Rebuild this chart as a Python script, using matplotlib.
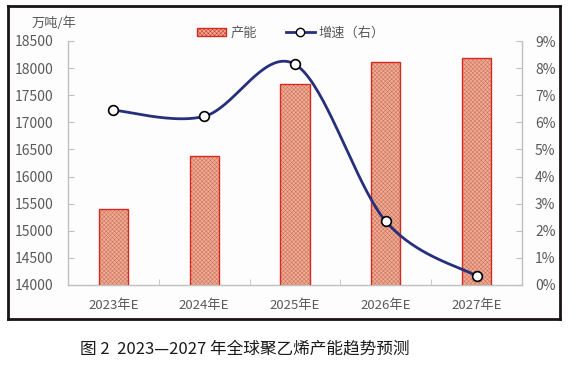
import numpy as np
import matplotlib
matplotlib.use("Agg")
import matplotlib.pyplot as plt
from matplotlib.patches import Rectangle
from matplotlib.lines import Line2D

plt.rcParams['font.family'] = ['Noto Sans CJK SC', 'DejaVu Sans']

categories = ['2023年E', '2024年E', '2025年E', '2026年E', '2027年E']
capacity = [15410, 16375, 17700, 18120, 18180]
growth = [6.45, 6.22, 8.14, 2.35, 0.33]
left_ticks = [14000, 14500, 15000, 15500, 16000, 16500, 17000, 17500, 18000, 18500]
right_ticks = [0, 1, 2, 3, 4, 5, 6, 7, 8, 9]

W, H = 581, 367
fig = plt.figure(figsize=(W / 100, H / 100), dpi=100)
fig.patch.set_facecolor('white')

# outer frame (background axes)
bg = fig.add_axes([8 / W, 1 - 319 / H, (560 - 8) / W, (319 - 6) / H], zorder=-10)
bg.set_facecolor('#fdfdfd')
bg.set_xticks([])
bg.set_yticks([])
for s in bg.spines.values():
    s.set_color('#1a1414')
    s.set_linewidth(2.0)

ax = fig.add_axes([68 / W, 1 - 285 / H, (522 - 68) / W, (285 - 41) / H])
ax.patch.set_alpha(0)
x = np.arange(len(categories))

gray = '#bfbfbf'
tc = '#595959'
plt.rcParams['hatch.linewidth'] = 0.35
bar_face = '#eaae96'
ax.bar(x, capacity, width=0.32, color=bar_face, edgecolor='#d46a55', hatch='xxxxxxxx',
       linewidth=0, zorder=2)
ax.bar(x, capacity, width=0.32, fill=False, edgecolor='#d42a22', linewidth=1.0, zorder=3)

ax.set_ylim(14000, 18500)
ax.set_xlim(-0.5, len(categories) - 0.5)
ax.set_yticks(left_ticks)
ax.set_yticklabels([str(v) for v in left_ticks])
ax.set_xticks(x)
ax.set_xticklabels(categories)
ax.set_xticks(np.arange(len(categories) + 1) - 0.5, minor=True)
ax.tick_params(axis='x', which='major', length=0, pad=10, labelsize=9.5, labelcolor=tc)
ax.tick_params(axis='x', which='minor', direction='in', length=4, color=gray)
ax.tick_params(axis='y', direction='in', length=4, color=gray, pad=10.8, labelsize=10, labelcolor=tc)
for s in ['top', 'right']:
    ax.spines[s].set_visible(False)
for s in ['left', 'bottom']:
    ax.spines[s].set_color(gray)
    ax.spines[s].set_linewidth(1.0)

ax2 = ax.twinx()
ax2.set_ylim(0, 9)
ax2.set_yticks(right_ticks)
ax2.set_yticklabels([f'{v}%' for v in right_ticks])
ax2.tick_params(axis='y', direction='in', length=4, color=gray, pad=9.4, labelsize=10, labelcolor=tc)
for s in ['top', 'left', 'bottom']:
    ax2.spines[s].set_visible(False)
ax2.spines['right'].set_color(gray)
ax2.spines['right'].set_linewidth(1.0)


def smooth(xs, ys, n=40):
    xs = np.asarray(xs, float)
    ys = np.asarray(ys, float)
    P = np.column_stack([xs, ys])
    out = []
    for i in range(len(P) - 1):
        p0 = P[i - 1] if i > 0 else P[i]
        p1 = P[i]
        p2 = P[i + 1]
        p3 = P[i + 2] if i + 2 < len(P) else P[i + 1]
        c1 = p1 + (p2 - p0) / 6
        c2 = p2 - (p3 - p1) / 6
        t = np.linspace(0, 1, n)[:, None]
        seg = ((1 - t) ** 3) * p1 + 3 * ((1 - t) ** 2) * t * c1 + 3 * (1 - t) * t ** 2 * c2 + t ** 3 * p2
        out.append(seg if i == 0 else seg[1:])
    s = np.vstack(out)
    return s[:, 0], s[:, 1]


sx, sy = smooth(x, growth)
line_color = '#26307a'
ax2.plot(sx, sy, color=line_color, linewidth=2.0, zorder=4)
ax2.plot(x, growth, linestyle='none', marker='o', markersize=7, markerfacecolor='white',
         markeredgecolor='black', markeredgewidth=1.2, zorder=5)

# y unit label
fig.text(32 / W, 1 - 23 / H, '万吨/年', fontsize=9.5, color=tc, va='center', ha='left')

# legend
bar_handle = Rectangle((0, 0), 1, 1, facecolor=bar_face, edgecolor='#d42a22', hatch='xxxxxxxx', linewidth=1.0)
line_handle = Line2D([], [], color=line_color, linewidth=2.0, marker='o', markersize=6,
                     markerfacecolor='white', markeredgecolor='black')
fig.legend([bar_handle, line_handle], ['产能', '增速（右）'], loc='center',
           bbox_to_anchor=(291 / W, 1 - 33 / H), ncol=2, frameon=False, fontsize=9.5,
           labelcolor=tc, handlelength=2.2, handletextpad=0.3, columnspacing=2.2,
           handleheight=0.6)

fig.text(80 / W, 1 - 349 / H, '图 2  2023—2027 年全球聚乙烯产能趋势预测', fontsize=12,
         color='#1a1a1a', va='center', ha='left')

fig.savefig('out.png', dpi=100, facecolor='white')
